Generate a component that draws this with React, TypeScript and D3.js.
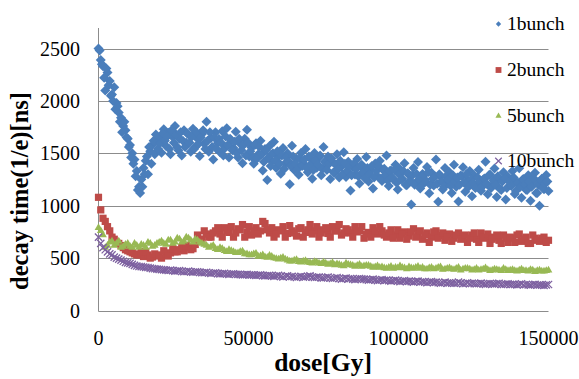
import React, { useEffect, useRef } from "react";
import * as d3 from "d3";

// dose values [Gy] for the 1bunch series (two interleaved read-outs)
const dose1: number[] = [
  0, 750, 1500, 2250, 3000, 3750, 4500, 5250, 6000, 6750,
  7500, 8250, 9000, 9750, 10500, 11250, 12000, 12750, 13500, 14250,
  15000, 15750, 16500, 17250, 18000, 18750, 19500, 20250, 21000, 21750,
  22500, 23250, 24000, 24750, 25500, 26250, 27000, 27750, 28500, 29250,
  30000, 30750, 31500, 32250, 33000, 33750, 34500, 35250, 36000, 36750,
  37500, 38250, 39000, 39750, 40500, 41250, 42000, 42750, 43500, 44250,
  45000, 45750, 46500, 47250, 48000, 48750, 49500, 50250, 51000, 51750,
  52500, 53250, 54000, 54750, 55500, 56250, 57000, 57750, 58500, 59250,
  60000, 60750, 61500, 62250, 63000, 63750, 64500, 65250, 66000, 66750,
  67500, 68250, 69000, 69750, 70500, 71250, 72000, 72750, 73500, 74250,
  75000, 75750, 76500, 77250, 78000, 78750, 79500, 80250, 81000, 81750,
  82500, 83250, 84000, 84750, 85500, 86250, 87000, 87750, 88500, 89250,
  90000, 90750, 91500, 92250, 93000, 93750, 94500, 95250, 96000, 96750,
  97500, 98250, 99000, 99750, 100500, 101250, 102000, 102750, 103500, 104250,
  105000, 105750, 106500, 107250, 108000, 108750, 109500, 110250, 111000, 111750,
  112500, 113250, 114000, 114750, 115500, 116250, 117000, 117750, 118500, 119250,
  120000, 120750, 121500, 122250, 123000, 123750, 124500, 125250, 126000, 126750,
  127500, 128250, 129000, 129750, 130500, 131250, 132000, 132750, 133500, 134250,
  135000, 135750, 136500, 137250, 138000, 138750, 139500, 140250, 141000, 141750,
  142500, 143250, 144000, 144750, 145500, 146250, 147000, 147750, 148500, 149250,
  150000,
];

const bunch1: number[] = [
  2500, 2390, 2330, 2100, 2270, 2190, 2060, 2130, 1980, 1890,
  1840, 1760, 1720, 1640, 1580, 1500, 1440, 1330, 1180, 1250,
  1360, 1430, 1300, 1520, 1580, 1490, 1620, 1650, 1505, 1730,
  1570, 1695, 1490, 1655, 1760, 1560, 1640, 1480, 1720, 1600,
  1680, 1515, 1735, 1560, 1640, 1475, 1685, 1590, 1800, 1515,
  1645, 1440, 1700, 1595, 1510, 1710, 1545, 1740, 1460, 1625,
  1550, 1705, 1460, 1590, 1405, 1640, 1725, 1470, 1555, 1400,
  1595, 1490, 1620, 1335, 1540, 1245, 1570, 1425, 1610, 1360,
  1470, 1305, 1550, 1405, 1500, 1205, 1572, 1340, 1448, 1296,
  1504, 1402, 1540, 1320, 1458, 1256, 1504, 1362, 1460, 1290,
  1560, 1375, 1470, 1255, 1420, 1315, 1492, 1270, 1375, 1510,
  1275, 1420, 1145, 1370, 1298, 1445, 1212, 1390, 1318, 1465,
  1230, 1338, 1165, 1402, 1280, 1428, 1235, 1352, 1480, 1188,
  1335, 1252, 1390, 1155, 1350, 1258, 1406, 1194, 1292, 1011,
  1360, 1218, 1416, 1164, 1302, 1251, 1370, 1118, 1315, 1192,
  1440, 1038, 1276, 1154, 1360, 1210, 1320, 1120, 1390, 1180,
  1040, 1288, 1366, 1134, 1242, 1331, 1090, 1288, 1186, 1344,
  1142, 1251, 1420, 1110, 1298, 1196, 1354, 1082, 1251, 1150,
  1320, 1058, 1276, 1194, 1332, 1111, 1220, 1358, 1076, 1254,
  1152, 1290, 1048, 1236, 1314, 1122, 1000, 1258, 1156, 1294,
  1140,
];

const dose1b: number[] = [
  375, 1125, 1875, 2625, 3375, 4125, 4875, 5625, 6375, 7125,
  7875, 8625, 9375, 10125, 10875, 11625, 12375, 13125, 13875, 14625,
  15375, 16125, 16875, 17625, 18375, 19125, 19875, 20625, 21375, 22125,
  22875, 23625, 24375, 25125, 25875, 26625, 27375, 28125, 28875, 29625,
  30375, 31125, 31875, 32625, 33375, 34125, 34875, 35625, 36375, 37125,
  37875, 38625, 39375, 40125, 40875, 41625, 42375, 43125, 43875, 44625,
  45375, 46125, 46875, 47625, 48375, 49125, 49875, 50625, 51375, 52125,
  52875, 53625, 54375, 55125, 55875, 56625, 57375, 58125, 58875, 59625,
  60375, 61125, 61875, 62625, 63375, 64125, 64875, 65625, 66375, 67125,
  67875, 68625, 69375, 70125, 70875, 71625, 72375, 73125, 73875, 74625,
  75375, 76125, 76875, 77625, 78375, 79125, 79875, 80625, 81375, 82125,
  82875, 83625, 84375, 85125, 85875, 86625, 87375, 88125, 88875, 89625,
  90375, 91125, 91875, 92625, 93375, 94125, 94875, 95625, 96375, 97125,
  97875, 98625, 99375, 100125, 100875, 101625, 102375, 103125, 103875, 104625,
  105375, 106125, 106875, 107625, 108375, 109125, 109875, 110625, 111375, 112125,
  112875, 113625, 114375, 115125, 115875, 116625, 117375, 118125, 118875, 119625,
  120375, 121125, 121875, 122625, 123375, 124125, 124875, 125625, 126375, 127125,
  127875, 128625, 129375, 130125, 130875, 131625, 132375, 133125, 133875, 134625,
  135375, 136125, 136875, 137625, 138375, 139125, 139875, 140625, 141375, 142125,
  142875, 143625, 144375, 145125, 145875, 146625, 147375, 148125, 148875, 149625,
];

const bunch1b: number[] = [
  2480, 2350, 2220, 2310, 2150, 2050, 2000, 1920, 1950, 1800,
  1700, 1800, 1650, 1560, 1460, 1400, 1280, 1150, 1120, 1180,
  1300, 1470, 1560, 1400, 1620, 1680, 1540, 1600, 1690, 1620,
  1660, 1540, 1720, 1600, 1680, 1530, 1700, 1620, 1560, 1690,
  1600, 1660, 1540, 1700, 1590, 1650, 1720, 1540, 1620, 1700,
  1560, 1650, 1540, 1640, 1600, 1480, 1660, 1580, 1640, 1530,
  1610, 1500, 1640, 1530, 1580, 1480, 1600, 1520, 1460, 1580,
  1450, 1560, 1490, 1420, 1530, 1460, 1380, 1500, 1430, 1520,
  1400, 1480, 1350, 1460, 1420, 1380, 1470, 1400, 1350, 1450,
  1380, 1440, 1360, 1470, 1400, 1340, 1430, 1390, 1480, 1350,
  1420, 1340, 1400, 1450, 1320, 1390, 1350, 1430, 1300, 1400,
  1330, 1380, 1290, 1400, 1350, 1280, 1380, 1320, 1260, 1360,
  1300, 1380, 1270, 1330, 1380, 1260, 1340, 1290, 1240, 1330,
  1270, 1340, 1220, 1300, 1250, 1330, 1200, 1310, 1240, 1290,
  1200, 1300, 1250, 1190, 1290, 1230, 1320, 1200, 1260, 1280,
  1210, 1300, 1230, 1180, 1280, 1250, 1190, 1290, 1230, 1270,
  1200, 1280, 1220, 1300, 1180, 1250, 1220, 1170, 1270, 1230,
  1180, 1260, 1210, 1290, 1170, 1240, 1200, 1280, 1160, 1230,
  1260, 1170, 1230, 1190, 1270, 1140, 1220, 1180, 1250, 1200,
  1150, 1230, 1180, 1260, 1120, 1200, 1240, 1170, 1210, 1230,
];

// dose values [Gy] for the 2, 5 and 10 bunch series
const doseN: number[] = [
  0, 1500, 3000, 4500, 6000, 7500, 9000, 10500, 12000, 13500,
  15000, 16500, 18000, 19500, 21000, 22500, 24000, 25500, 27000, 28500,
  30000, 31500, 33000, 34500, 36000, 37500, 39000, 40500, 42000, 43500,
  45000, 46500, 48000, 49500, 51000, 52500, 54000, 55500, 57000, 58500,
  60000, 61500, 63000, 64500, 66000, 67500, 69000, 70500, 72000, 73500,
  75000, 76500, 78000, 79500, 81000, 82500, 84000, 85500, 87000, 88500,
  90000, 91500, 93000, 94500, 96000, 97500, 99000, 100500, 102000, 103500,
  105000, 106500, 108000, 109500, 111000, 112500, 114000, 115500, 117000, 118500,
  120000, 121500, 123000, 124500, 126000, 127500, 129000, 130500, 132000, 133500,
  135000, 136500, 138000, 139500, 141000, 142500, 144000, 145500, 147000, 148500,
  150000,
];

const doseNb: number[] = [
  750, 2250, 3750, 5250, 6750, 8250, 9750, 11250, 12750, 14250,
  15750, 17250, 18750, 20250, 21750, 23250, 24750, 26250, 27750, 29250,
  30750, 32250, 33750, 35250, 36750, 38250, 39750, 41250, 42750, 44250,
  45750, 47250, 48750, 50250, 51750, 53250, 54750, 56250, 57750, 59250,
  60750, 62250, 63750, 65250, 66750, 68250, 69750, 71250, 72750, 74250,
  75750, 77250, 78750, 80250, 81750, 83250, 84750, 86250, 87750, 89250,
  90750, 92250, 93750, 95250, 96750, 98250, 99750, 101250, 102750, 104250,
  105750, 107250, 108750, 110250, 111750, 113250, 114750, 116250, 117750, 119250,
  120750, 122250, 123750, 125250, 126750, 128250, 129750, 131250, 132750, 134250,
  135750, 137250, 138750, 140250, 141750, 143250, 144750, 146250, 147750, 149250,
];

const bunch2: number[] = [
  1080, 880, 800, 700, 650, 620, 580, 560, 540, 530,
  515, 530, 510, 520, 500, 540, 550, 560, 580, 570,
  600, 590, 720, 680, 730, 700, 760, 730, 790, 745,
  700, 780, 820, 750, 720, 790, 760, 830, 740, 700,
  770, 800, 735, 760, 710, 790, 745, 820, 760, 700,
  770, 735, 800, 760, 720, 780, 740, 800, 760, 690,
  745, 790, 730, 760, 700, 770, 720, 690, 750, 710,
  780, 730, 680, 740, 700, 760, 715, 670, 730, 690,
  740, 700, 650, 720, 680, 740, 690, 640, 700, 670,
  720, 650, 690, 720, 660, 700, 640, 690, 660, 700,
  670,
];

const bunch2b: number[] = [
  960, 850, 760, 680, 640, 600, 570, 550, 530, 560,
  560, 500, 540, 530, 570, 520, 590, 560, 600, 620,
  580, 630, 680, 760, 700, 740, 790, 700, 760, 800,
  740, 770, 700, 800, 760, 730, 850, 770, 790, 730,
  760, 700, 810, 740, 780, 700, 770, 730, 800, 740,
  790, 700, 760, 820, 740, 770, 700, 750, 800, 730,
  700, 760, 800, 720, 740, 690, 770, 730, 680, 750,
  700, 760, 720, 650, 750, 690, 740, 700, 660, 720,
  680, 720, 690, 740, 650, 700, 730, 680, 720, 640,
  690, 700, 650, 730, 680, 640, 720, 670, 690, 650,
];

const bunch5: number[] = [
  790, 720, 620, 660, 640, 600, 630, 610, 640, 600,
  620, 650, 610, 640, 660, 630, 670, 650, 680, 660,
  690, 650, 670, 640, 620, 610, 590, 600, 570, 580,
  560, 550, 565, 540, 530, 545, 520, 510, 525, 500,
  490, 505, 480, 470, 485, 460, 475, 455, 465, 450,
  460, 440, 455, 445, 430, 450, 435, 420, 440, 425,
  430, 410, 425, 415, 400, 420, 410, 425, 405, 415,
  400, 420, 410, 395, 410, 400, 415, 395, 405, 390,
  410, 395, 400, 385, 400, 390, 405, 380, 395, 385,
  400, 380, 390, 375, 395, 380, 390, 370, 385, 375,
  385,
];

const bunch5b: number[] = [
  760, 600, 650, 620, 660, 610, 640, 600, 620, 630,
  600, 640, 620, 650, 640, 670, 640, 690, 650, 700,
  670, 680, 650, 630, 600, 620, 580, 590, 560, 570,
  550, 560, 540, 530, 540, 515, 530, 505, 515, 495,
  500, 490, 470, 480, 465, 470, 460, 450, 460, 445,
  450, 445, 435, 440, 425, 440, 430, 430, 420, 430,
  420, 415, 410, 405, 410, 400, 405, 410, 395, 405,
  410, 400, 395, 405, 395, 410, 390, 400, 395, 400,
  385, 400, 395, 390, 385, 395, 390, 385, 390, 380,
  390, 385, 380, 385, 380, 375, 385, 380, 375, 380,
];

const bunch10: number[] = [
  700, 600, 560, 530, 500, 480, 460, 450, 430, 420,
  415, 410, 400, 395, 390, 385, 385, 375, 380, 370,
  375, 365, 370, 360, 365, 355, 360, 350, 355, 345,
  350, 345, 340, 345, 340, 335, 340, 330, 335, 325,
  335, 320, 330, 325, 315, 325, 320, 330, 315, 320,
  310, 320, 305, 315, 300, 310, 305, 295, 305, 300,
  290, 300, 285, 295, 290, 280, 290, 275, 285, 280,
  270, 280, 275, 265, 275, 270, 260, 270, 265, 260,
  270, 255, 265, 260, 255, 262, 250, 258, 252, 260,
  248, 255, 250, 245, 255, 248, 242, 250, 245, 240,
  248,
];

const bunch10b: number[] = [
  640, 580, 540, 510, 490, 470, 455, 440, 425, 418,
  412, 405, 398, 392, 388, 382, 380, 378, 372, 372,
  368, 368, 364, 362, 358, 358, 352, 352, 348, 348,
  346, 342, 342, 340, 337, 338, 333, 332, 330, 330,
  325, 327, 322, 320, 322, 318, 325, 318, 318, 312,
  315, 310, 310, 305, 305, 302, 300, 300, 302, 295,
  295, 292, 290, 288, 285, 285, 282, 280, 278, 275,
  278, 272, 270, 270, 268, 265, 265, 262, 262, 260,
  262, 258, 258, 256, 258, 254, 255, 254, 256, 250,
  252, 250, 248, 250, 246, 245, 248, 243, 242, 244,
];

const xTicks = [0, 50000, 100000, 150000];
const yTicks = [0, 500, 1000, 1500, 2000, 2500];
const seriesNames = ["1bunch", "2bunch", "5bunch", "10bunch"];

const FONT = "'Liberation Serif', 'Times New Roman', serif";

const pairs = (doses: number[], values: number[]) =>
  values.map((v, i) => [doses[i], v] as [number, number]);

const App: React.FC = () => {
  const svgRef = useRef<SVGSVGElement | null>(null);

  useEffect(() => {
    if (!svgRef.current) return;
    const svg = d3.select(svgRef.current);
    svg.selectAll("*").remove();

    const width = 579;
    const height = 379;
    const left = 98.5;
    const right = 548.5;
    const top = 48.5;
    const bottom = 310.5;

    const x = d3.scaleLinear().domain([0, 150000]).range([left, right]);
    const y = d3.scaleLinear().domain([0, 2500]).range([bottom, top]);

    svg.attr("width", width).attr("height", height);

    // gridlines
    svg
      .append("g")
      .selectAll("line")
      .data(yTicks)
      .join("line")
      .attr("x1", left)
      .attr("x2", right)
      .attr("y1", (d) => Math.round(y(d)) + 0.5)
      .attr("y2", (d) => Math.round(y(d)) + 0.5)
      .attr("stroke", "#8c8c8c")
      .attr("stroke-width", 1);

    // y axis line
    svg
      .append("line")
      .attr("x1", left)
      .attr("x2", left)
      .attr("y1", 28)
      .attr("y2", Math.round(y(0)) + 0.5)
      .attr("stroke", "#8c8c8c");

    // tick labels
    svg
      .append("g")
      .selectAll("text")
      .data(yTicks)
      .join("text")
      .attr("x", 80)
      .attr("y", (d) => y(d))
      .attr("dy", "0.35em")
      .attr("text-anchor", "end")
      .style("font-family", FONT)
      .attr("font-size", "20px")
      .attr("fill", "#000")
      .text((d) => d);

    svg
      .append("g")
      .selectAll("text")
      .data(xTicks)
      .join("text")
      .attr("x", (d) => x(d))
      .attr("y", 345)
      .attr("text-anchor", "middle")
      .style("font-family", FONT)
      .attr("font-size", "20px")
      .attr("fill", "#000")
      .text((d) => d);

    // axis titles
    svg
      .append("text")
      .attr("transform", `translate(28,191) rotate(-90)`)
      .attr("text-anchor", "middle")
      .style("font-family", FONT)
      .attr("font-weight", "bold")
      .attr("font-size", "24.5px")
      .text("decay time(1/e)[ns]");

    svg
      .append("text")
      .attr("x", 323)
      .attr("y", 371)
      .attr("text-anchor", "middle")
      .style("font-family", FONT)
      .attr("font-weight", "bold")
      .attr("font-size", "25.5px")
      .text("dose[Gy]");

    const diamond = d3.symbol(d3.symbolSquare, 50)();
    const square = d3.symbol(d3.symbolSquare, 52)();
    const triangle = d3.symbol(d3.symbolTriangle, 26)();
    const cross = d3.symbol(d3.symbolX, 36)();

    const plot = svg.append("g");

    const s1 = pairs(dose1, bunch1).concat(pairs(dose1b, bunch1b));
    const s2 = pairs(doseN, bunch2).concat(pairs(doseNb, bunch2b));
    const s5 = pairs(doseN, bunch5).concat(pairs(doseNb, bunch5b));
    const s10 = pairs(doseN, bunch10).concat(pairs(doseNb, bunch10b));

    plot
      .selectAll("path.b1")
      .data(s1)
      .join("path")
      .attr("class", "b1")
      .attr("d", diamond)
      .attr("transform", (d) => `translate(${x(d[0])},${y(d[1])}) rotate(45)`)
      .attr("fill", "#4a7ebb");

    plot
      .selectAll("path.b2")
      .data(s2)
      .join("path")
      .attr("class", "b2")
      .attr("d", square)
      .attr("transform", (d) => `translate(${x(d[0])},${y(d[1])})`)
      .attr("fill", "#be4b48");

    plot
      .selectAll("path.b5")
      .data(s5)
      .join("path")
      .attr("class", "b5")
      .attr("d", triangle)
      .attr("transform", (d) => `translate(${x(d[0])},${y(d[1])})`)
      .attr("fill", "#98b954");

    plot
      .selectAll("path.b10")
      .data(s10)
      .join("path")
      .attr("class", "b10")
      .attr("d", cross)
      .attr("transform", (d) => `translate(${x(d[0])},${y(d[1])})`)
      .attr("fill", "none")
      .attr("stroke", "#7d60a0")
      .attr("stroke-width", 1.3);

    // legend
    const legendMarks = [
      { d: d3.symbol(d3.symbolSquare, 14)(), rot: 45, fill: "#4a7ebb", stroke: "none" },
      { d: d3.symbol(d3.symbolSquare, 34)(), rot: 0, fill: "#be4b48", stroke: "none" },
      { d: d3.symbol(d3.symbolTriangle, 16)(), rot: 0, fill: "#98b954", stroke: "none" },
      { d: d3.symbol(d3.symbolX, 30)(), rot: 0, fill: "none", stroke: "#7d60a0" },
    ];
    const legendY = [24, 70, 116, 161];

    const legend = svg
      .append("g")
      .selectAll("g")
      .data(seriesNames)
      .join("g")
      .attr("transform", (_d, i) => `translate(0,${legendY[i]})`);

    legend
      .append("path")
      .attr("d", (_d, i) => legendMarks[i].d)
      .attr("transform", (_d, i) => `translate(498.5,0) rotate(${legendMarks[i].rot})`)
      .attr("fill", (_d, i) => legendMarks[i].fill)
      .attr("stroke", (_d, i) => legendMarks[i].stroke)
      .attr("stroke-width", 1.2);

    legend
      .append("text")
      .attr("x", 507)
      .attr("y", 6)
      .style("font-family", FONT)
      .attr("font-size", "19.5px")
      .attr("fill", "#000")
      .text((d) => d);
  }, []);

  return (
    <svg
      ref={svgRef}
      style={{ position: "absolute", left: 0, top: 0, background: "#fff" }}
    ></svg>
  );
};

export default App;
